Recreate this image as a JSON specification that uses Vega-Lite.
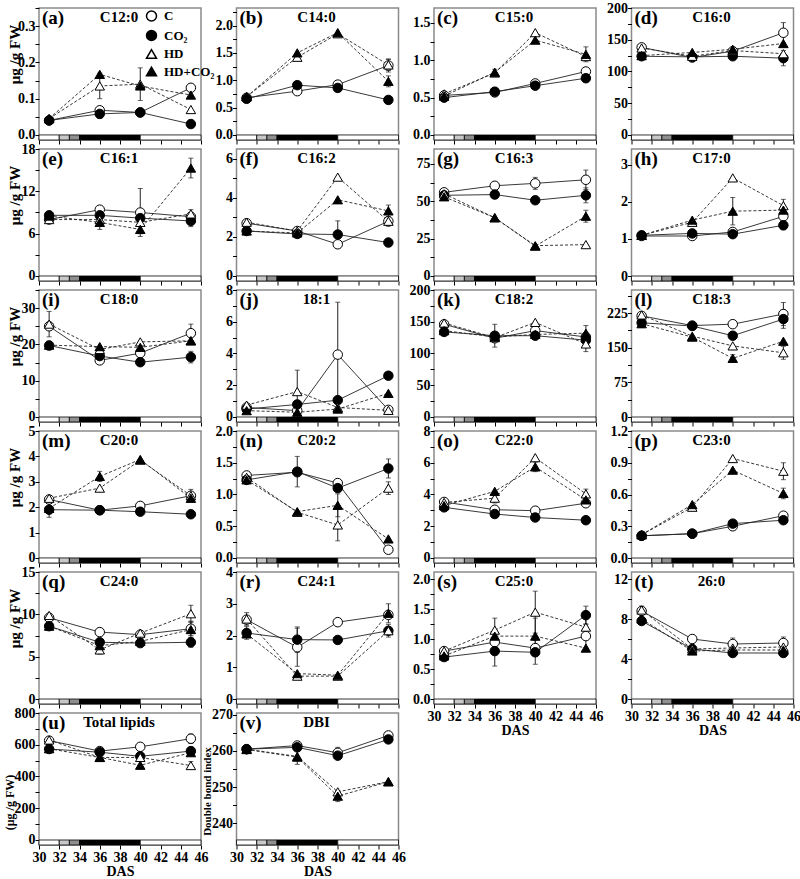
{
"$schema":"https://vega.github.io/schema/vega-lite/v6.json",
"padding":{"left":2,"top":0,"right":0,"bottom":0},
"bounds":"flush",
"columns":4,
"spacing":{"row":9,"column":35.5},
"resolve":{"legend":{"shape":"independent","fill":"independent"}},
"datasets":{
"strip":[{"a":30,"b":32,"k":"pre"},{"a":32,"b":33,"k":"s1"},{"a":33,"b":34,"k":"s2"},{"a":34,"b":40,"k":"hd"},{"a":40,"b":46,"k":"post"}],
"d":[
{"p":"a","g":"C","x":31,"v":0.04,"e":0.005},{"p":"a","g":"C","x":36,"v":0.068,"e":0.008},{"p":"a","g":"C","x":40,"v":0.062},{"p":"a","g":"C","x":45,"v":0.13,"e":0.01},
{"p":"a","g":"CO₂","x":31,"v":0.04},{"p":"a","g":"CO₂","x":36,"v":0.058,"e":0.012},{"p":"a","g":"CO₂","x":40,"v":0.062},{"p":"a","g":"CO₂","x":45,"v":0.03},
{"p":"a","g":"HD","x":31,"v":0.045},{"p":"a","g":"HD","x":36,"v":0.135,"e":0.035},{"p":"a","g":"HD","x":40,"v":0.14,"e":0.045},{"p":"a","g":"HD","x":45,"v":0.07},
{"p":"a","g":"HD+CO₂","x":31,"v":0.045},{"p":"a","g":"HD+CO₂","x":36,"v":0.167},{"p":"a","g":"HD+CO₂","x":40,"v":0.135},{"p":"a","g":"HD+CO₂","x":45,"v":0.11},
{"p":"b","g":"C","x":31,"v":0.68},{"p":"b","g":"C","x":36,"v":0.8},{"p":"b","g":"C","x":40,"v":0.92},{"p":"b","g":"C","x":45,"v":1.27,"e":0.12},
{"p":"b","g":"CO₂","x":31,"v":0.66},{"p":"b","g":"CO₂","x":36,"v":0.91},{"p":"b","g":"CO₂","x":40,"v":0.86},{"p":"b","g":"CO₂","x":45,"v":0.64},
{"p":"b","g":"HD","x":31,"v":0.7},{"p":"b","g":"HD","x":36,"v":1.42},{"p":"b","g":"HD","x":40,"v":1.85},{"p":"b","g":"HD","x":45,"v":1.28,"e":0.1},
{"p":"b","g":"HD+CO₂","x":31,"v":0.7},{"p":"b","g":"HD+CO₂","x":36,"v":1.5},{"p":"b","g":"HD+CO₂","x":40,"v":1.87},{"p":"b","g":"HD+CO₂","x":45,"v":0.98,"e":0.1},
{"p":"c","g":"C","x":31,"v":0.53},{"p":"c","g":"C","x":36,"v":0.57},{"p":"c","g":"C","x":40,"v":0.69},{"p":"c","g":"C","x":45,"v":0.85},
{"p":"c","g":"CO₂","x":31,"v":0.5},{"p":"c","g":"CO₂","x":36,"v":0.58},{"p":"c","g":"CO₂","x":40,"v":0.66},{"p":"c","g":"CO₂","x":45,"v":0.76,"e":0.05},
{"p":"c","g":"HD","x":31,"v":0.55},{"p":"c","g":"HD","x":36,"v":0.83},{"p":"c","g":"HD","x":40,"v":1.37},{"p":"c","g":"HD","x":45,"v":1.05},
{"p":"c","g":"HD+CO₂","x":31,"v":0.52},{"p":"c","g":"HD+CO₂","x":36,"v":0.84,"e":0.04},{"p":"c","g":"HD+CO₂","x":40,"v":1.27},{"p":"c","g":"HD+CO₂","x":45,"v":1.08,"e":0.1},
{"p":"d","g":"C","x":31,"v":138},{"p":"d","g":"C","x":36,"v":122},{"p":"d","g":"C","x":40,"v":132},{"p":"d","g":"C","x":45,"v":161,"e":16},
{"p":"d","g":"CO₂","x":31,"v":124,"e":6},{"p":"d","g":"CO₂","x":36,"v":123},{"p":"d","g":"CO₂","x":40,"v":124},{"p":"d","g":"CO₂","x":45,"v":121,"e":12},
{"p":"d","g":"HD","x":31,"v":137},{"p":"d","g":"HD","x":36,"v":124},{"p":"d","g":"HD","x":40,"v":133},{"p":"d","g":"HD","x":45,"v":128},
{"p":"d","g":"HD+CO₂","x":31,"v":125},{"p":"d","g":"HD+CO₂","x":36,"v":130},{"p":"d","g":"HD+CO₂","x":40,"v":135},{"p":"d","g":"HD+CO₂","x":45,"v":144},
{"p":"e","g":"C","x":31,"v":8.0},{"p":"e","g":"C","x":36,"v":9.4},{"p":"e","g":"C","x":40,"v":9.0,"e":3.4},{"p":"e","g":"C","x":45,"v":8.4},
{"p":"e","g":"CO₂","x":31,"v":8.6},{"p":"e","g":"CO₂","x":36,"v":8.6},{"p":"e","g":"CO₂","x":40,"v":8.2},{"p":"e","g":"CO₂","x":45,"v":7.8,"e":0.8},
{"p":"e","g":"HD","x":31,"v":8.0},{"p":"e","g":"HD","x":36,"v":8.0},{"p":"e","g":"HD","x":40,"v":7.6},{"p":"e","g":"HD","x":45,"v":8.8,"e":0.6},
{"p":"e","g":"HD+CO₂","x":31,"v":8.5},{"p":"e","g":"HD+CO₂","x":36,"v":7.6,"e":1.0},{"p":"e","g":"HD+CO₂","x":40,"v":6.6,"e":0.6},{"p":"e","g":"HD+CO₂","x":45,"v":15.3,"e":1.4},
{"p":"f","g":"C","x":31,"v":2.7},{"p":"f","g":"C","x":36,"v":2.3},{"p":"f","g":"C","x":40,"v":1.62},{"p":"f","g":"C","x":45,"v":2.8,"e":0.25},
{"p":"f","g":"CO₂","x":31,"v":2.3},{"p":"f","g":"CO₂","x":36,"v":2.15},{"p":"f","g":"CO₂","x":40,"v":2.12,"e":0.7},{"p":"f","g":"CO₂","x":45,"v":1.71},
{"p":"f","g":"HD","x":31,"v":2.75},{"p":"f","g":"HD","x":36,"v":2.3},{"p":"f","g":"HD","x":40,"v":5.06},{"p":"f","g":"HD","x":45,"v":2.8},
{"p":"f","g":"HD+CO₂","x":31,"v":2.3},{"p":"f","g":"HD+CO₂","x":36,"v":2.2},{"p":"f","g":"HD+CO₂","x":40,"v":3.9},{"p":"f","g":"HD+CO₂","x":45,"v":3.33,"e":0.3},
{"p":"g","g":"C","x":31,"v":56},{"p":"g","g":"C","x":36,"v":60.4},{"p":"g","g":"C","x":40,"v":62,"e":4},{"p":"g","g":"C","x":45,"v":64.4,"e":6.5},
{"p":"g","g":"CO₂","x":31,"v":54},{"p":"g","g":"CO₂","x":36,"v":54.5},{"p":"g","g":"CO₂","x":40,"v":50.7},{"p":"g","g":"CO₂","x":45,"v":54,"e":5},
{"p":"g","g":"HD","x":31,"v":55},{"p":"g","g":"HD","x":36,"v":39},{"p":"g","g":"HD","x":40,"v":20.3},{"p":"g","g":"HD","x":45,"v":21},
{"p":"g","g":"HD+CO₂","x":31,"v":53},{"p":"g","g":"HD+CO₂","x":36,"v":39},{"p":"g","g":"HD+CO₂","x":40,"v":20},{"p":"g","g":"HD+CO₂","x":45,"v":40,"e":4},
{"p":"h","g":"C","x":31,"v":1.08},{"p":"h","g":"C","x":36,"v":1.08},{"p":"h","g":"C","x":40,"v":1.19},{"p":"h","g":"C","x":45,"v":1.61},
{"p":"h","g":"CO₂","x":31,"v":1.1},{"p":"h","g":"CO₂","x":36,"v":1.15},{"p":"h","g":"CO₂","x":40,"v":1.13},{"p":"h","g":"CO₂","x":45,"v":1.37,"e":0.12},
{"p":"h","g":"HD","x":31,"v":1.1},{"p":"h","g":"HD","x":36,"v":1.45},{"p":"h","g":"HD","x":40,"v":2.65},{"p":"h","g":"HD","x":45,"v":1.9,"e":0.17},
{"p":"h","g":"HD+CO₂","x":31,"v":1.1},{"p":"h","g":"HD+CO₂","x":36,"v":1.51},{"p":"h","g":"HD+CO₂","x":40,"v":1.75,"e":0.37},{"p":"h","g":"HD+CO₂","x":45,"v":1.78},
{"p":"i","g":"C","x":31,"v":25},{"p":"i","g":"C","x":36,"v":15.6},{"p":"i","g":"C","x":40,"v":17.6},{"p":"i","g":"C","x":45,"v":23.1,"e":2.5},
{"p":"i","g":"CO₂","x":31,"v":19.7,"e":1.2},{"p":"i","g":"CO₂","x":36,"v":16.8},{"p":"i","g":"CO₂","x":40,"v":15.1},{"p":"i","g":"CO₂","x":45,"v":16.5,"e":1.6},
{"p":"i","g":"HD","x":31,"v":25.6,"e":3.5},{"p":"i","g":"HD","x":36,"v":18.6},{"p":"i","g":"HD","x":40,"v":20.7},{"p":"i","g":"HD","x":45,"v":21},
{"p":"i","g":"HD+CO₂","x":31,"v":19.8},{"p":"i","g":"HD+CO₂","x":36,"v":19.4},{"p":"i","g":"HD+CO₂","x":40,"v":19.2},{"p":"i","g":"HD+CO₂","x":45,"v":21},
{"p":"j","g":"C","x":31,"v":0.6},{"p":"j","g":"C","x":36,"v":0.4},{"p":"j","g":"C","x":40,"v":3.93,"e":3.3},{"p":"j","g":"C","x":45,"v":0.45},
{"p":"j","g":"CO₂","x":31,"v":0.5},{"p":"j","g":"CO₂","x":36,"v":0.79},{"p":"j","g":"CO₂","x":40,"v":1.06},{"p":"j","g":"CO₂","x":45,"v":2.6},
{"p":"j","g":"HD","x":31,"v":0.75},{"p":"j","g":"HD","x":36,"v":1.6,"e":1.35},{"p":"j","g":"HD","x":40,"v":0.6},{"p":"j","g":"HD","x":45,"v":0.42},
{"p":"j","g":"HD+CO₂","x":31,"v":0.4},{"p":"j","g":"HD+CO₂","x":36,"v":0.3},{"p":"j","g":"HD+CO₂","x":40,"v":0.5},{"p":"j","g":"HD+CO₂","x":45,"v":1.49},
{"p":"k","g":"C","x":31,"v":146},{"p":"k","g":"C","x":36,"v":124},{"p":"k","g":"C","x":40,"v":136},{"p":"k","g":"C","x":45,"v":126},
{"p":"k","g":"CO₂","x":31,"v":134},{"p":"k","g":"CO₂","x":36,"v":128,"e":18},{"p":"k","g":"CO₂","x":40,"v":128},{"p":"k","g":"CO₂","x":45,"v":121},
{"p":"k","g":"HD","x":31,"v":148},{"p":"k","g":"HD","x":36,"v":125},{"p":"k","g":"HD","x":40,"v":149},{"p":"k","g":"HD","x":45,"v":115,"e":12},
{"p":"k","g":"HD+CO₂","x":31,"v":136},{"p":"k","g":"HD+CO₂","x":36,"v":126},{"p":"k","g":"HD+CO₂","x":40,"v":130},{"p":"k","g":"HD+CO₂","x":45,"v":132,"e":12},
{"p":"l","g":"C","x":31,"v":219},{"p":"l","g":"C","x":36,"v":198},{"p":"l","g":"C","x":40,"v":201},{"p":"l","g":"C","x":45,"v":223,"e":25},
{"p":"l","g":"CO₂","x":31,"v":204},{"p":"l","g":"CO₂","x":36,"v":197},{"p":"l","g":"CO₂","x":40,"v":176},{"p":"l","g":"CO₂","x":45,"v":212,"e":20},
{"p":"l","g":"HD","x":31,"v":221},{"p":"l","g":"HD","x":36,"v":175},{"p":"l","g":"HD","x":40,"v":154},{"p":"l","g":"HD","x":45,"v":139,"e":14},
{"p":"l","g":"HD+CO₂","x":31,"v":202},{"p":"l","g":"HD+CO₂","x":36,"v":173},{"p":"l","g":"HD+CO₂","x":40,"v":127,"e":8},{"p":"l","g":"HD+CO₂","x":45,"v":164},
{"p":"m","g":"C","x":31,"v":2.3},{"p":"m","g":"C","x":36,"v":1.88},{"p":"m","g":"C","x":40,"v":2.05},{"p":"m","g":"C","x":45,"v":2.45,"e":0.25},
{"p":"m","g":"CO₂","x":31,"v":1.9,"e":0.3},{"p":"m","g":"CO₂","x":36,"v":1.88},{"p":"m","g":"CO₂","x":40,"v":1.82},{"p":"m","g":"CO₂","x":45,"v":1.72},
{"p":"m","g":"HD","x":31,"v":2.35},{"p":"m","g":"HD","x":36,"v":2.75},{"p":"m","g":"HD","x":40,"v":3.85},{"p":"m","g":"HD","x":45,"v":2.45},
{"p":"m","g":"HD+CO₂","x":31,"v":1.95},{"p":"m","g":"HD+CO₂","x":36,"v":3.21,"e":0.2},{"p":"m","g":"HD+CO₂","x":40,"v":3.88},{"p":"m","g":"HD+CO₂","x":45,"v":2.35},
{"p":"n","g":"C","x":31,"v":1.3},{"p":"n","g":"C","x":36,"v":1.35},{"p":"n","g":"C","x":40,"v":1.18},{"p":"n","g":"C","x":45,"v":0.13,"e":0.05},
{"p":"n","g":"CO₂","x":31,"v":1.23},{"p":"n","g":"CO₂","x":36,"v":1.36,"e":0.24},{"p":"n","g":"CO₂","x":40,"v":1.1},{"p":"n","g":"CO₂","x":45,"v":1.41,"e":0.15},
{"p":"n","g":"HD","x":31,"v":1.27},{"p":"n","g":"HD","x":36,"v":0.72},{"p":"n","g":"HD","x":40,"v":0.52,"e":0.25},{"p":"n","g":"HD","x":45,"v":1.1,"e":0.1},
{"p":"n","g":"HD+CO₂","x":31,"v":1.23},{"p":"n","g":"HD+CO₂","x":36,"v":0.73},{"p":"n","g":"HD+CO₂","x":40,"v":0.83,"e":0.18},{"p":"n","g":"HD+CO₂","x":45,"v":0.3},
{"p":"o","g":"C","x":31,"v":3.53},{"p":"o","g":"C","x":36,"v":3.04},{"p":"o","g":"C","x":40,"v":2.98},{"p":"o","g":"C","x":45,"v":3.45},
{"p":"o","g":"CO₂","x":31,"v":3.19},{"p":"o","g":"CO₂","x":36,"v":2.77},{"p":"o","g":"CO₂","x":40,"v":2.55},{"p":"o","g":"CO₂","x":45,"v":2.38},
{"p":"o","g":"HD","x":31,"v":3.5},{"p":"o","g":"HD","x":36,"v":3.77,"e":0.3},{"p":"o","g":"HD","x":40,"v":6.32},{"p":"o","g":"HD","x":45,"v":4.04,"e":0.3},
{"p":"o","g":"HD+CO₂","x":31,"v":3.3},{"p":"o","g":"HD+CO₂","x":36,"v":4.2},{"p":"o","g":"HD+CO₂","x":40,"v":5.74,"e":0.3},{"p":"o","g":"HD+CO₂","x":45,"v":3.66,"e":0.35},
{"p":"p","g":"C","x":31,"v":0.21},{"p":"p","g":"C","x":36,"v":0.23},{"p":"p","g":"C","x":40,"v":0.3},{"p":"p","g":"C","x":45,"v":0.4},
{"p":"p","g":"CO₂","x":31,"v":0.21},{"p":"p","g":"CO₂","x":36,"v":0.23},{"p":"p","g":"CO₂","x":40,"v":0.325},{"p":"p","g":"CO₂","x":45,"v":0.357},
{"p":"p","g":"HD","x":31,"v":0.22},{"p":"p","g":"HD","x":36,"v":0.48},{"p":"p","g":"HD","x":40,"v":0.94},{"p":"p","g":"HD","x":45,"v":0.82,"e":0.08},
{"p":"p","g":"HD+CO₂","x":31,"v":0.22},{"p":"p","g":"HD+CO₂","x":36,"v":0.505},{"p":"p","g":"HD+CO₂","x":40,"v":0.83},{"p":"p","g":"HD+CO₂","x":45,"v":0.61,"e":0.05},
{"p":"q","g":"C","x":31,"v":9.6},{"p":"q","g":"C","x":36,"v":7.9,"e":0.4},{"p":"q","g":"C","x":40,"v":7.6},{"p":"q","g":"C","x":45,"v":8.3,"e":0.8},
{"p":"q","g":"CO₂","x":31,"v":8.6,"e":0.5},{"p":"q","g":"CO₂","x":36,"v":6.7},{"p":"q","g":"CO₂","x":40,"v":6.6},{"p":"q","g":"CO₂","x":45,"v":6.7,"e":0.6},
{"p":"q","g":"HD","x":31,"v":9.87},{"p":"q","g":"HD","x":36,"v":5.8,"e":0.5},{"p":"q","g":"HD","x":40,"v":7.78},{"p":"q","g":"HD","x":45,"v":10.07,"e":1},
{"p":"q","g":"HD+CO₂","x":31,"v":8.6},{"p":"q","g":"HD+CO₂","x":36,"v":6.3},{"p":"q","g":"HD+CO₂","x":40,"v":6.8},{"p":"q","g":"HD+CO₂","x":45,"v":8.2,"e":1},
{"p":"r","g":"C","x":31,"v":2.5},{"p":"r","g":"C","x":36,"v":1.63,"e":0.6},{"p":"r","g":"C","x":40,"v":2.42},{"p":"r","g":"C","x":45,"v":2.65},
{"p":"r","g":"CO₂","x":31,"v":2.08,"e":0.2},{"p":"r","g":"CO₂","x":36,"v":1.87,"e":0.4},{"p":"r","g":"CO₂","x":40,"v":1.86},{"p":"r","g":"CO₂","x":45,"v":2.15},
{"p":"r","g":"HD","x":31,"v":2.52,"e":0.2},{"p":"r","g":"HD","x":36,"v":0.72},{"p":"r","g":"HD","x":40,"v":0.72},{"p":"r","g":"HD","x":45,"v":2.15,"e":0.2},
{"p":"r","g":"HD+CO₂","x":31,"v":2.05},{"p":"r","g":"HD+CO₂","x":36,"v":0.8},{"p":"r","g":"HD+CO₂","x":40,"v":0.75},{"p":"r","g":"HD+CO₂","x":45,"v":2.7,"e":0.3},
{"p":"s","g":"C","x":31,"v":0.8},{"p":"s","g":"C","x":36,"v":0.95},{"p":"s","g":"C","x":40,"v":0.85},{"p":"s","g":"C","x":45,"v":1.05,"e":0.2},
{"p":"s","g":"CO₂","x":31,"v":0.7},{"p":"s","g":"CO₂","x":36,"v":0.8,"e":0.25},{"p":"s","g":"CO₂","x":40,"v":0.78,"e":0.2},{"p":"s","g":"CO₂","x":45,"v":1.4,"e":0.15},
{"p":"s","g":"HD","x":31,"v":0.8},{"p":"s","g":"HD","x":36,"v":1.15,"e":0.2},{"p":"s","g":"HD","x":40,"v":1.45,"e":0.35},{"p":"s","g":"HD","x":45,"v":1.2,"e":0.2},
{"p":"s","g":"HD+CO₂","x":31,"v":0.72},{"p":"s","g":"HD+CO₂","x":36,"v":1.05},{"p":"s","g":"HD+CO₂","x":40,"v":1.05,"e":0.3},{"p":"s","g":"HD+CO₂","x":45,"v":0.85},
{"p":"t","g":"C","x":31,"v":8.8},{"p":"t","g":"C","x":36,"v":6.0},{"p":"t","g":"C","x":40,"v":5.5,"e":0.6},{"p":"t","g":"C","x":45,"v":5.6,"e":0.6},
{"p":"t","g":"CO₂","x":31,"v":7.8},{"p":"t","g":"CO₂","x":36,"v":5.0},{"p":"t","g":"CO₂","x":40,"v":4.6},{"p":"t","g":"CO₂","x":45,"v":4.6},
{"p":"t","g":"HD","x":31,"v":8.9,"e":0.4},{"p":"t","g":"HD","x":36,"v":5.0},{"p":"t","g":"HD","x":40,"v":5.1},{"p":"t","g":"HD","x":45,"v":5.2},
{"p":"t","g":"HD+CO₂","x":31,"v":8.0},{"p":"t","g":"HD+CO₂","x":36,"v":4.8},{"p":"t","g":"HD+CO₂","x":40,"v":4.9},{"p":"t","g":"HD+CO₂","x":45,"v":4.9},
{"p":"u","g":"C","x":31,"v":626},{"p":"u","g":"C","x":36,"v":560},{"p":"u","g":"C","x":40,"v":587},{"p":"u","g":"C","x":45,"v":638,"e":30},
{"p":"u","g":"CO₂","x":31,"v":573,"e":20},{"p":"u","g":"CO₂","x":36,"v":553},{"p":"u","g":"CO₂","x":40,"v":527},{"p":"u","g":"CO₂","x":45,"v":560,"e":20},
{"p":"u","g":"HD","x":31,"v":630},{"p":"u","g":"HD","x":36,"v":520},{"p":"u","g":"HD","x":40,"v":520},{"p":"u","g":"HD","x":45,"v":469,"e":25},
{"p":"u","g":"HD+CO₂","x":31,"v":575},{"p":"u","g":"HD+CO₂","x":36,"v":520,"e":20},{"p":"u","g":"HD+CO₂","x":40,"v":471,"e":25},{"p":"u","g":"HD+CO₂","x":45,"v":550},
{"p":"v","g":"C","x":31,"v":260.5},{"p":"v","g":"C","x":36,"v":261.5},{"p":"v","g":"C","x":40,"v":259.5,"e":1.5},{"p":"v","g":"C","x":45,"v":264.3},
{"p":"v","g":"CO₂","x":31,"v":260.5,"e":0.8},{"p":"v","g":"CO₂","x":36,"v":261},{"p":"v","g":"CO₂","x":40,"v":258.7},{"p":"v","g":"CO₂","x":45,"v":263.2},
{"p":"v","g":"HD","x":31,"v":260.5},{"p":"v","g":"HD","x":36,"v":258.5},{"p":"v","g":"HD","x":40,"v":248.7},{"p":"v","g":"HD","x":45,"v":251.5},
{"p":"v","g":"HD+CO₂","x":31,"v":260.4},{"p":"v","g":"HD+CO₂","x":36,"v":258.3,"e":2},{"p":"v","g":"HD+CO₂","x":40,"v":247.5,"e":1.5},{"p":"v","g":"HD+CO₂","x":45,"v":251.5}
]},
"config":{
"view":{"stroke":"#8a8a8a","strokeWidth":1.5},
"font":"Liberation Serif",
"axis":{"domain":false,"grid":false,"tickColor":"black","tickSize":4,"tickWidth":1,"labelFont":"Liberation Serif","labelFontSize":14,"labelFontWeight":"bold","labelColor":"black","labelPadding":0,"labelOverlap":false,"titleFont":"Liberation Serif","titleFontWeight":"bold","titleColor":"black","titleFontSize":14},
"axisX":{"labels":false,"labelPadding":1,"titlePadding":0,"labelFlush":false},
"axisY":{"minExtent":22,"maxExtent":22,"titlePadding":-5,"titleFontSize":15},
"range":{"category":["white","black","white","black"],"symbol":["circle","circle","triangle-up","triangle-up"]},
"style":{
"idlab":{"font":"Liberation Serif","fontSize":19,"fontWeight":"bold","align":"left","baseline":"top","dx":3,"dy":1,"fill":"black"},
"nmlab":{"font":"Liberation Serif","fontSize":15,"fontWeight":"bold","align":"center","baseline":"top","dy":2,"fill":"black"}}
},
"concat":[
{"width":162,"height":132,"layer":[
{"data":{"name":"d"},"transform":[{"filter":"datum.p=='a'"}],"encoding":{"x":{"field":"x","type":"quantitative","scale":{"domain":[30,46],"nice":false,"zero":false},"axis":{"values":[30,32,34,36,38,40,42,44,46],"format":"d","tickCount":50,"labelOverlap":false,"title":null}},"y":{"field":"v","type":"quantitative","scale":{"domain":[-0.014,0.35],"nice":false,"zero":false},"axis":{"values":[0,0.05,0.1,0.15,0.2,0.25,0.3,0.35],"tickCount":50,"labelOverlap":false,"format":".1f","labelExpr":"abs(datum.value/0.1-round(datum.value/0.1))<0.001?datum.label:''","title":"μg /g FW","titleY":46}}},"layer":[
{"transform":[{"filter":"datum.g=='C'||datum.g=='CO₂'"}],"mark":{"type":"line","color":"#222","strokeWidth":0.9},"encoding":{"detail":{"field":"g"}}},
{"transform":[{"filter":"datum.g=='HD'||datum.g=='HD+CO₂'"}],"mark":{"type":"line","color":"#222","strokeWidth":0.9,"strokeDash":[3,2]},"encoding":{"detail":{"field":"g"}}},
{"transform":[{"filter":"datum.e>0"}],"mark":{"type":"errorbar","ticks":true,"color":"#222"},"encoding":{"yError":{"field":"e"}}},
{"mark":{"type":"point","filled":true,"size":90,"stroke":"black","strokeWidth":1,"opacity":1},"encoding":{
"shape":{"field":"g","type":"nominal","legend":{"title":null,"orient":"none","legendX":106,"legendY":1.5,"padding":0,"rowPadding":2.5,"symbolSize":100,"labelOffset":6,"labelFont":"Liberation Serif","labelFontSize":13,"labelFontWeight":"bold","labelColor":"black"}},
"fill":{"field":"g","type":"nominal","legend":{"title":null,"orient":"none","legendX":106,"legendY":1.5,"padding":0,"rowPadding":2.5,"symbolSize":100,"labelOffset":6,"labelFont":"Liberation Serif","labelFontSize":13,"labelFontWeight":"bold","labelColor":"black"}}}}]},
{"data":{"name":"strip"},"mark":{"type":"rect","stroke":"black","strokeWidth":0.8},"encoding":{"x":{"field":"a","type":"quantitative"},"x2":{"field":"b"},"y":{"datum":0},"y2":{"datum":-0.014},"color":{"field":"k","type":"nominal","scale":{"domain":["pre","s1","s2","hd","post"],"range":["white","#c8c8c8","#8f8f8f","black","white"]},"legend":null}}},
{"data":{"values":[{"t":"(a)","n":"C12:0"}]},"layer":[{"mark":{"type":"text","style":"idlab"},"encoding":{"x":{"datum":30},"y":{"datum":0.35},"text":{"field":"t"}}},{"mark":{"type":"text","style":"nmlab"},"encoding":{"x":{"datum":37.9},"y":{"datum":0.35},"text":{"field":"n"}}}]}
]},
{"width":162,"height":132,"layer":[
{"data":{"name":"d"},"transform":[{"filter":"datum.p=='b'"}],"encoding":{"x":{"field":"x","type":"quantitative","scale":{"domain":[30,46],"nice":false,"zero":false},"axis":{"values":[30,32,34,36,38,40,42,44,46],"format":"d","tickCount":50,"labelOverlap":false,"title":null}},"y":{"field":"v","type":"quantitative","scale":{"domain":[-0.092,2.32],"nice":false,"zero":false},"axis":{"values":[0,0.25,0.5,0.75,1,1.25,1.5,1.75,2,2.25],"tickCount":50,"labelOverlap":false,"format":".1f","labelExpr":"abs(datum.value/0.5-round(datum.value/0.5))<0.001?datum.label:''","title":null}}},"layer":[
{"transform":[{"filter":"datum.g=='C'||datum.g=='CO₂'"}],"mark":{"type":"line","color":"#222","strokeWidth":0.9},"encoding":{"detail":{"field":"g"}}},
{"transform":[{"filter":"datum.g=='HD'||datum.g=='HD+CO₂'"}],"mark":{"type":"line","color":"#222","strokeWidth":0.9,"strokeDash":[3,2]},"encoding":{"detail":{"field":"g"}}},
{"transform":[{"filter":"datum.e>0"}],"mark":{"type":"errorbar","ticks":true,"color":"#222"},"encoding":{"yError":{"field":"e"}}},
{"mark":{"type":"point","filled":true,"size":90,"stroke":"black","strokeWidth":1,"opacity":1},"encoding":{"shape":{"field":"g","type":"nominal","legend":null},"fill":{"field":"g","type":"nominal","legend":null}}}]},
{"data":{"name":"strip"},"mark":{"type":"rect","stroke":"black","strokeWidth":0.8},"encoding":{"x":{"field":"a","type":"quantitative"},"x2":{"field":"b"},"y":{"datum":0},"y2":{"datum":-0.092},"color":{"field":"k","type":"nominal","scale":{"domain":["pre","s1","s2","hd","post"],"range":["white","#c8c8c8","#8f8f8f","black","white"]},"legend":null}}},
{"data":{"values":[{"t":"(b)","n":"C14:0"}]},"layer":[{"mark":{"type":"text","style":"idlab"},"encoding":{"x":{"datum":30},"y":{"datum":2.32},"text":{"field":"t"}}},{"mark":{"type":"text","style":"nmlab"},"encoding":{"x":{"datum":37.9},"y":{"datum":2.32},"text":{"field":"n"}}}]}
]},
{"width":162,"height":132,"layer":[
{"data":{"name":"d"},"transform":[{"filter":"datum.p=='c'"}],"encoding":{"x":{"field":"x","type":"quantitative","scale":{"domain":[30,46],"nice":false,"zero":false},"axis":{"values":[30,32,34,36,38,40,42,44,46],"format":"d","tickCount":50,"labelOverlap":false,"title":null}},"y":{"field":"v","type":"quantitative","scale":{"domain":[-0.067,1.7],"nice":false,"zero":false},"axis":{"values":[0,0.25,0.5,0.75,1,1.25,1.5],"tickCount":50,"labelOverlap":false,"format":".1f","labelExpr":"abs(datum.value/0.5-round(datum.value/0.5))<0.001?datum.label:''","title":null}}},"layer":[
{"transform":[{"filter":"datum.g=='C'||datum.g=='CO₂'"}],"mark":{"type":"line","color":"#222","strokeWidth":0.9},"encoding":{"detail":{"field":"g"}}},
{"transform":[{"filter":"datum.g=='HD'||datum.g=='HD+CO₂'"}],"mark":{"type":"line","color":"#222","strokeWidth":0.9,"strokeDash":[3,2]},"encoding":{"detail":{"field":"g"}}},
{"transform":[{"filter":"datum.e>0"}],"mark":{"type":"errorbar","ticks":true,"color":"#222"},"encoding":{"yError":{"field":"e"}}},
{"mark":{"type":"point","filled":true,"size":90,"stroke":"black","strokeWidth":1,"opacity":1},"encoding":{"shape":{"field":"g","type":"nominal","legend":null},"fill":{"field":"g","type":"nominal","legend":null}}}]},
{"data":{"name":"strip"},"mark":{"type":"rect","stroke":"black","strokeWidth":0.8},"encoding":{"x":{"field":"a","type":"quantitative"},"x2":{"field":"b"},"y":{"datum":0},"y2":{"datum":-0.067},"color":{"field":"k","type":"nominal","scale":{"domain":["pre","s1","s2","hd","post"],"range":["white","#c8c8c8","#8f8f8f","black","white"]},"legend":null}}},
{"data":{"values":[{"t":"(c)","n":"C15:0"}]},"layer":[{"mark":{"type":"text","style":"idlab"},"encoding":{"x":{"datum":30},"y":{"datum":1.7},"text":{"field":"t"}}},{"mark":{"type":"text","style":"nmlab"},"encoding":{"x":{"datum":37.9},"y":{"datum":1.7},"text":{"field":"n"}}}]}
]},
{"width":162,"height":132,"layer":[
{"data":{"name":"d"},"transform":[{"filter":"datum.p=='d'"}],"encoding":{"x":{"field":"x","type":"quantitative","scale":{"domain":[30,46],"nice":false,"zero":false},"axis":{"values":[30,32,34,36,38,40,42,44,46],"format":"d","tickCount":50,"labelOverlap":false,"title":null}},"y":{"field":"v","type":"quantitative","scale":{"domain":[-7.9,200],"nice":false,"zero":false},"axis":{"values":[0,25,50,75,100,125,150,175,200],"tickCount":50,"labelOverlap":false,"format":"d","labelExpr":"abs(datum.value/50-round(datum.value/50))<0.001?datum.label:''","title":null}}},"layer":[
{"transform":[{"filter":"datum.g=='C'||datum.g=='CO₂'"}],"mark":{"type":"line","color":"#222","strokeWidth":0.9},"encoding":{"detail":{"field":"g"}}},
{"transform":[{"filter":"datum.g=='HD'||datum.g=='HD+CO₂'"}],"mark":{"type":"line","color":"#222","strokeWidth":0.9,"strokeDash":[3,2]},"encoding":{"detail":{"field":"g"}}},
{"transform":[{"filter":"datum.e>0"}],"mark":{"type":"errorbar","ticks":true,"color":"#222"},"encoding":{"yError":{"field":"e"}}},
{"mark":{"type":"point","filled":true,"size":90,"stroke":"black","strokeWidth":1,"opacity":1},"encoding":{"shape":{"field":"g","type":"nominal","legend":null},"fill":{"field":"g","type":"nominal","legend":null}}}]},
{"data":{"name":"strip"},"mark":{"type":"rect","stroke":"black","strokeWidth":0.8},"encoding":{"x":{"field":"a","type":"quantitative"},"x2":{"field":"b"},"y":{"datum":0},"y2":{"datum":-7.9},"color":{"field":"k","type":"nominal","scale":{"domain":["pre","s1","s2","hd","post"],"range":["white","#c8c8c8","#8f8f8f","black","white"]},"legend":null}}},
{"data":{"values":[{"t":"(d)","n":"C16:0"}]},"layer":[{"mark":{"type":"text","style":"idlab"},"encoding":{"x":{"datum":30},"y":{"datum":200},"text":{"field":"t"}}},{"mark":{"type":"text","style":"nmlab"},"encoding":{"x":{"datum":37.9},"y":{"datum":200},"text":{"field":"n"}}}]}
]},
{"width":162,"height":132,"layer":[
{"data":{"name":"d"},"transform":[{"filter":"datum.p=='e'"}],"encoding":{"x":{"field":"x","type":"quantitative","scale":{"domain":[30,46],"nice":false,"zero":false},"axis":{"values":[30,32,34,36,38,40,42,44,46],"format":"d","tickCount":50,"labelOverlap":false,"title":null}},"y":{"field":"v","type":"quantitative","scale":{"domain":[-0.71,18],"nice":false,"zero":false},"axis":{"values":[0,3,6,9,12,15,18],"tickCount":50,"labelOverlap":false,"format":"d","labelExpr":"abs(datum.value/6-round(datum.value/6))<0.001?datum.label:''","title":"μg /g FW","titleY":46}}},"layer":[
{"transform":[{"filter":"datum.g=='C'||datum.g=='CO₂'"}],"mark":{"type":"line","color":"#222","strokeWidth":0.9},"encoding":{"detail":{"field":"g"}}},
{"transform":[{"filter":"datum.g=='HD'||datum.g=='HD+CO₂'"}],"mark":{"type":"line","color":"#222","strokeWidth":0.9,"strokeDash":[3,2]},"encoding":{"detail":{"field":"g"}}},
{"transform":[{"filter":"datum.e>0"}],"mark":{"type":"errorbar","ticks":true,"color":"#222"},"encoding":{"yError":{"field":"e"}}},
{"mark":{"type":"point","filled":true,"size":90,"stroke":"black","strokeWidth":1,"opacity":1},"encoding":{"shape":{"field":"g","type":"nominal","legend":null},"fill":{"field":"g","type":"nominal","legend":null}}}]},
{"data":{"name":"strip"},"mark":{"type":"rect","stroke":"black","strokeWidth":0.8},"encoding":{"x":{"field":"a","type":"quantitative"},"x2":{"field":"b"},"y":{"datum":0},"y2":{"datum":-0.71},"color":{"field":"k","type":"nominal","scale":{"domain":["pre","s1","s2","hd","post"],"range":["white","#c8c8c8","#8f8f8f","black","white"]},"legend":null}}},
{"data":{"values":[{"t":"(e)","n":"C16:1"}]},"layer":[{"mark":{"type":"text","style":"idlab"},"encoding":{"x":{"datum":30},"y":{"datum":18},"text":{"field":"t"}}},{"mark":{"type":"text","style":"nmlab"},"encoding":{"x":{"datum":37.9},"y":{"datum":18},"text":{"field":"n"}}}]}
]},
{"width":162,"height":132,"layer":[
{"data":{"name":"d"},"transform":[{"filter":"datum.p=='f'"}],"encoding":{"x":{"field":"x","type":"quantitative","scale":{"domain":[30,46],"nice":false,"zero":false},"axis":{"values":[30,32,34,36,38,40,42,44,46],"format":"d","tickCount":50,"labelOverlap":false,"title":null}},"y":{"field":"v","type":"quantitative","scale":{"domain":[-0.26,6.5],"nice":false,"zero":false},"axis":{"values":[0,1,2,3,4,5,6],"tickCount":50,"labelOverlap":false,"format":"d","labelExpr":"abs(datum.value/2-round(datum.value/2))<0.001?datum.label:''","title":null}}},"layer":[
{"transform":[{"filter":"datum.g=='C'||datum.g=='CO₂'"}],"mark":{"type":"line","color":"#222","strokeWidth":0.9},"encoding":{"detail":{"field":"g"}}},
{"transform":[{"filter":"datum.g=='HD'||datum.g=='HD+CO₂'"}],"mark":{"type":"line","color":"#222","strokeWidth":0.9,"strokeDash":[3,2]},"encoding":{"detail":{"field":"g"}}},
{"transform":[{"filter":"datum.e>0"}],"mark":{"type":"errorbar","ticks":true,"color":"#222"},"encoding":{"yError":{"field":"e"}}},
{"mark":{"type":"point","filled":true,"size":90,"stroke":"black","strokeWidth":1,"opacity":1},"encoding":{"shape":{"field":"g","type":"nominal","legend":null},"fill":{"field":"g","type":"nominal","legend":null}}}]},
{"data":{"name":"strip"},"mark":{"type":"rect","stroke":"black","strokeWidth":0.8},"encoding":{"x":{"field":"a","type":"quantitative"},"x2":{"field":"b"},"y":{"datum":0},"y2":{"datum":-0.26},"color":{"field":"k","type":"nominal","scale":{"domain":["pre","s1","s2","hd","post"],"range":["white","#c8c8c8","#8f8f8f","black","white"]},"legend":null}}},
{"data":{"values":[{"t":"(f)","n":"C16:2"}]},"layer":[{"mark":{"type":"text","style":"idlab"},"encoding":{"x":{"datum":30},"y":{"datum":6.5},"text":{"field":"t"}}},{"mark":{"type":"text","style":"nmlab"},"encoding":{"x":{"datum":37.9},"y":{"datum":6.5},"text":{"field":"n"}}}]}
]},
{"width":162,"height":132,"layer":[
{"data":{"name":"d"},"transform":[{"filter":"datum.p=='g'"}],"encoding":{"x":{"field":"x","type":"quantitative","scale":{"domain":[30,46],"nice":false,"zero":false},"axis":{"values":[30,32,34,36,38,40,42,44,46],"format":"d","tickCount":50,"labelOverlap":false,"title":null}},"y":{"field":"v","type":"quantitative","scale":{"domain":[-3.35,85],"nice":false,"zero":false},"axis":{"values":[0,12.5,25,37.5,50,62.5,75],"tickCount":50,"labelOverlap":false,"format":"d","labelExpr":"abs(datum.value/25-round(datum.value/25))<0.001?datum.label:''","title":null}}},"layer":[
{"transform":[{"filter":"datum.g=='C'||datum.g=='CO₂'"}],"mark":{"type":"line","color":"#222","strokeWidth":0.9},"encoding":{"detail":{"field":"g"}}},
{"transform":[{"filter":"datum.g=='HD'||datum.g=='HD+CO₂'"}],"mark":{"type":"line","color":"#222","strokeWidth":0.9,"strokeDash":[3,2]},"encoding":{"detail":{"field":"g"}}},
{"transform":[{"filter":"datum.e>0"}],"mark":{"type":"errorbar","ticks":true,"color":"#222"},"encoding":{"yError":{"field":"e"}}},
{"mark":{"type":"point","filled":true,"size":90,"stroke":"black","strokeWidth":1,"opacity":1},"encoding":{"shape":{"field":"g","type":"nominal","legend":null},"fill":{"field":"g","type":"nominal","legend":null}}}]},
{"data":{"name":"strip"},"mark":{"type":"rect","stroke":"black","strokeWidth":0.8},"encoding":{"x":{"field":"a","type":"quantitative"},"x2":{"field":"b"},"y":{"datum":0},"y2":{"datum":-3.35},"color":{"field":"k","type":"nominal","scale":{"domain":["pre","s1","s2","hd","post"],"range":["white","#c8c8c8","#8f8f8f","black","white"]},"legend":null}}},
{"data":{"values":[{"t":"(g)","n":"C16:3"}]},"layer":[{"mark":{"type":"text","style":"idlab"},"encoding":{"x":{"datum":30},"y":{"datum":85},"text":{"field":"t"}}},{"mark":{"type":"text","style":"nmlab"},"encoding":{"x":{"datum":37.9},"y":{"datum":85},"text":{"field":"n"}}}]}
]},
{"width":162,"height":132,"layer":[
{"data":{"name":"d"},"transform":[{"filter":"datum.p=='h'"}],"encoding":{"x":{"field":"x","type":"quantitative","scale":{"domain":[30,46],"nice":false,"zero":false},"axis":{"values":[30,32,34,36,38,40,42,44,46],"format":"d","tickCount":50,"labelOverlap":false,"title":null}},"y":{"field":"v","type":"quantitative","scale":{"domain":[-0.135,3.43],"nice":false,"zero":false},"axis":{"values":[0,0.5,1,1.5,2,2.5,3],"tickCount":50,"labelOverlap":false,"format":"d","labelExpr":"abs(datum.value/1-round(datum.value/1))<0.001?datum.label:''","title":null}}},"layer":[
{"transform":[{"filter":"datum.g=='C'||datum.g=='CO₂'"}],"mark":{"type":"line","color":"#222","strokeWidth":0.9},"encoding":{"detail":{"field":"g"}}},
{"transform":[{"filter":"datum.g=='HD'||datum.g=='HD+CO₂'"}],"mark":{"type":"line","color":"#222","strokeWidth":0.9,"strokeDash":[3,2]},"encoding":{"detail":{"field":"g"}}},
{"transform":[{"filter":"datum.e>0"}],"mark":{"type":"errorbar","ticks":true,"color":"#222"},"encoding":{"yError":{"field":"e"}}},
{"mark":{"type":"point","filled":true,"size":90,"stroke":"black","strokeWidth":1,"opacity":1},"encoding":{"shape":{"field":"g","type":"nominal","legend":null},"fill":{"field":"g","type":"nominal","legend":null}}}]},
{"data":{"name":"strip"},"mark":{"type":"rect","stroke":"black","strokeWidth":0.8},"encoding":{"x":{"field":"a","type":"quantitative"},"x2":{"field":"b"},"y":{"datum":0},"y2":{"datum":-0.135},"color":{"field":"k","type":"nominal","scale":{"domain":["pre","s1","s2","hd","post"],"range":["white","#c8c8c8","#8f8f8f","black","white"]},"legend":null}}},
{"data":{"values":[{"t":"(h)","n":"C17:0"}]},"layer":[{"mark":{"type":"text","style":"idlab"},"encoding":{"x":{"datum":30},"y":{"datum":3.43},"text":{"field":"t"}}},{"mark":{"type":"text","style":"nmlab"},"encoding":{"x":{"datum":37.9},"y":{"datum":3.43},"text":{"field":"n"}}}]}
]},
{"width":162,"height":132,"layer":[
{"data":{"name":"d"},"transform":[{"filter":"datum.p=='i'"}],"encoding":{"x":{"field":"x","type":"quantitative","scale":{"domain":[30,46],"nice":false,"zero":false},"axis":{"values":[30,32,34,36,38,40,42,44,46],"format":"d","tickCount":50,"labelOverlap":false,"title":null}},"y":{"field":"v","type":"quantitative","scale":{"domain":[-1.38,35],"nice":false,"zero":false},"axis":{"values":[0,5,10,15,20,25,30,35],"tickCount":50,"labelOverlap":false,"format":"d","labelExpr":"abs(datum.value/10-round(datum.value/10))<0.001?datum.label:''","title":"μg /g FW","titleY":46}}},"layer":[
{"transform":[{"filter":"datum.g=='C'||datum.g=='CO₂'"}],"mark":{"type":"line","color":"#222","strokeWidth":0.9},"encoding":{"detail":{"field":"g"}}},
{"transform":[{"filter":"datum.g=='HD'||datum.g=='HD+CO₂'"}],"mark":{"type":"line","color":"#222","strokeWidth":0.9,"strokeDash":[3,2]},"encoding":{"detail":{"field":"g"}}},
{"transform":[{"filter":"datum.e>0"}],"mark":{"type":"errorbar","ticks":true,"color":"#222"},"encoding":{"yError":{"field":"e"}}},
{"mark":{"type":"point","filled":true,"size":90,"stroke":"black","strokeWidth":1,"opacity":1},"encoding":{"shape":{"field":"g","type":"nominal","legend":null},"fill":{"field":"g","type":"nominal","legend":null}}}]},
{"data":{"name":"strip"},"mark":{"type":"rect","stroke":"black","strokeWidth":0.8},"encoding":{"x":{"field":"a","type":"quantitative"},"x2":{"field":"b"},"y":{"datum":0},"y2":{"datum":-1.38},"color":{"field":"k","type":"nominal","scale":{"domain":["pre","s1","s2","hd","post"],"range":["white","#c8c8c8","#8f8f8f","black","white"]},"legend":null}}},
{"data":{"values":[{"t":"(i)","n":"C18:0"}]},"layer":[{"mark":{"type":"text","style":"idlab"},"encoding":{"x":{"datum":30},"y":{"datum":35},"text":{"field":"t"}}},{"mark":{"type":"text","style":"nmlab"},"encoding":{"x":{"datum":37.9},"y":{"datum":35},"text":{"field":"n"}}}]}
]},
{"width":162,"height":132,"layer":[
{"data":{"name":"d"},"transform":[{"filter":"datum.p=='j'"}],"encoding":{"x":{"field":"x","type":"quantitative","scale":{"domain":[30,46],"nice":false,"zero":false},"axis":{"values":[30,32,34,36,38,40,42,44,46],"format":"d","tickCount":50,"labelOverlap":false,"title":null}},"y":{"field":"v","type":"quantitative","scale":{"domain":[-0.315,8],"nice":false,"zero":false},"axis":{"values":[0,1,2,3,4,5,6,7,8],"tickCount":50,"labelOverlap":false,"format":"d","labelExpr":"abs(datum.value/2-round(datum.value/2))<0.001?datum.label:''","title":null}}},"layer":[
{"transform":[{"filter":"datum.g=='C'||datum.g=='CO₂'"}],"mark":{"type":"line","color":"#222","strokeWidth":0.9},"encoding":{"detail":{"field":"g"}}},
{"transform":[{"filter":"datum.g=='HD'||datum.g=='HD+CO₂'"}],"mark":{"type":"line","color":"#222","strokeWidth":0.9,"strokeDash":[3,2]},"encoding":{"detail":{"field":"g"}}},
{"transform":[{"filter":"datum.e>0"}],"mark":{"type":"errorbar","ticks":true,"color":"#222"},"encoding":{"yError":{"field":"e"}}},
{"mark":{"type":"point","filled":true,"size":90,"stroke":"black","strokeWidth":1,"opacity":1},"encoding":{"shape":{"field":"g","type":"nominal","legend":null},"fill":{"field":"g","type":"nominal","legend":null}}}]},
{"data":{"name":"strip"},"mark":{"type":"rect","stroke":"black","strokeWidth":0.8},"encoding":{"x":{"field":"a","type":"quantitative"},"x2":{"field":"b"},"y":{"datum":0},"y2":{"datum":-0.315},"color":{"field":"k","type":"nominal","scale":{"domain":["pre","s1","s2","hd","post"],"range":["white","#c8c8c8","#8f8f8f","black","white"]},"legend":null}}},
{"data":{"values":[{"t":"(j)","n":"18:1"}]},"layer":[{"mark":{"type":"text","style":"idlab"},"encoding":{"x":{"datum":30},"y":{"datum":8},"text":{"field":"t"}}},{"mark":{"type":"text","style":"nmlab"},"encoding":{"x":{"datum":37.9},"y":{"datum":8},"text":{"field":"n"}}}]}
]},
{"width":162,"height":132,"layer":[
{"data":{"name":"d"},"transform":[{"filter":"datum.p=='k'"}],"encoding":{"x":{"field":"x","type":"quantitative","scale":{"domain":[30,46],"nice":false,"zero":false},"axis":{"values":[30,32,34,36,38,40,42,44,46],"format":"d","tickCount":50,"labelOverlap":false,"title":null}},"y":{"field":"v","type":"quantitative","scale":{"domain":[-7.9,200],"nice":false,"zero":false},"axis":{"values":[0,25,50,75,100,125,150,175,200],"tickCount":50,"labelOverlap":false,"format":"d","labelExpr":"abs(datum.value/50-round(datum.value/50))<0.001?datum.label:''","title":null}}},"layer":[
{"transform":[{"filter":"datum.g=='C'||datum.g=='CO₂'"}],"mark":{"type":"line","color":"#222","strokeWidth":0.9},"encoding":{"detail":{"field":"g"}}},
{"transform":[{"filter":"datum.g=='HD'||datum.g=='HD+CO₂'"}],"mark":{"type":"line","color":"#222","strokeWidth":0.9,"strokeDash":[3,2]},"encoding":{"detail":{"field":"g"}}},
{"transform":[{"filter":"datum.e>0"}],"mark":{"type":"errorbar","ticks":true,"color":"#222"},"encoding":{"yError":{"field":"e"}}},
{"mark":{"type":"point","filled":true,"size":90,"stroke":"black","strokeWidth":1,"opacity":1},"encoding":{"shape":{"field":"g","type":"nominal","legend":null},"fill":{"field":"g","type":"nominal","legend":null}}}]},
{"data":{"name":"strip"},"mark":{"type":"rect","stroke":"black","strokeWidth":0.8},"encoding":{"x":{"field":"a","type":"quantitative"},"x2":{"field":"b"},"y":{"datum":0},"y2":{"datum":-7.9},"color":{"field":"k","type":"nominal","scale":{"domain":["pre","s1","s2","hd","post"],"range":["white","#c8c8c8","#8f8f8f","black","white"]},"legend":null}}},
{"data":{"values":[{"t":"(k)","n":"C18:2"}]},"layer":[{"mark":{"type":"text","style":"idlab"},"encoding":{"x":{"datum":30},"y":{"datum":200},"text":{"field":"t"}}},{"mark":{"type":"text","style":"nmlab"},"encoding":{"x":{"datum":37.9},"y":{"datum":200},"text":{"field":"n"}}}]}
]},
{"width":162,"height":132,"layer":[
{"data":{"name":"d"},"transform":[{"filter":"datum.p=='l'"}],"encoding":{"x":{"field":"x","type":"quantitative","scale":{"domain":[30,46],"nice":false,"zero":false},"axis":{"values":[30,32,34,36,38,40,42,44,46],"format":"d","tickCount":50,"labelOverlap":false,"title":null}},"y":{"field":"v","type":"quantitative","scale":{"domain":[-10.8,275],"nice":false,"zero":false},"axis":{"values":[0,37.5,75,112.5,150,187.5,225,262.5],"tickCount":50,"labelOverlap":false,"format":"d","labelExpr":"abs(datum.value/75-round(datum.value/75))<0.001?datum.label:''","title":null}}},"layer":[
{"transform":[{"filter":"datum.g=='C'||datum.g=='CO₂'"}],"mark":{"type":"line","color":"#222","strokeWidth":0.9},"encoding":{"detail":{"field":"g"}}},
{"transform":[{"filter":"datum.g=='HD'||datum.g=='HD+CO₂'"}],"mark":{"type":"line","color":"#222","strokeWidth":0.9,"strokeDash":[3,2]},"encoding":{"detail":{"field":"g"}}},
{"transform":[{"filter":"datum.e>0"}],"mark":{"type":"errorbar","ticks":true,"color":"#222"},"encoding":{"yError":{"field":"e"}}},
{"mark":{"type":"point","filled":true,"size":90,"stroke":"black","strokeWidth":1,"opacity":1},"encoding":{"shape":{"field":"g","type":"nominal","legend":null},"fill":{"field":"g","type":"nominal","legend":null}}}]},
{"data":{"name":"strip"},"mark":{"type":"rect","stroke":"black","strokeWidth":0.8},"encoding":{"x":{"field":"a","type":"quantitative"},"x2":{"field":"b"},"y":{"datum":0},"y2":{"datum":-10.8},"color":{"field":"k","type":"nominal","scale":{"domain":["pre","s1","s2","hd","post"],"range":["white","#c8c8c8","#8f8f8f","black","white"]},"legend":null}}},
{"data":{"values":[{"t":"(l)","n":"C18:3"}]},"layer":[{"mark":{"type":"text","style":"idlab"},"encoding":{"x":{"datum":30},"y":{"datum":275},"text":{"field":"t"}}},{"mark":{"type":"text","style":"nmlab"},"encoding":{"x":{"datum":37.9},"y":{"datum":275},"text":{"field":"n"}}}]}
]},
{"width":162,"height":132,"layer":[
{"data":{"name":"d"},"transform":[{"filter":"datum.p=='m'"}],"encoding":{"x":{"field":"x","type":"quantitative","scale":{"domain":[30,46],"nice":false,"zero":false},"axis":{"values":[30,32,34,36,38,40,42,44,46],"format":"d","tickCount":50,"labelOverlap":false,"title":null}},"y":{"field":"v","type":"quantitative","scale":{"domain":[-0.2,5],"nice":false,"zero":false},"axis":{"values":[0,0.5,1,1.5,2,2.5,3,3.5,4,4.5,5],"tickCount":50,"labelOverlap":false,"format":"d","labelExpr":"abs(datum.value/1-round(datum.value/1))<0.001?datum.label:''","title":"μg /g FW","titleY":46}}},"layer":[
{"transform":[{"filter":"datum.g=='C'||datum.g=='CO₂'"}],"mark":{"type":"line","color":"#222","strokeWidth":0.9},"encoding":{"detail":{"field":"g"}}},
{"transform":[{"filter":"datum.g=='HD'||datum.g=='HD+CO₂'"}],"mark":{"type":"line","color":"#222","strokeWidth":0.9,"strokeDash":[3,2]},"encoding":{"detail":{"field":"g"}}},
{"transform":[{"filter":"datum.e>0"}],"mark":{"type":"errorbar","ticks":true,"color":"#222"},"encoding":{"yError":{"field":"e"}}},
{"mark":{"type":"point","filled":true,"size":90,"stroke":"black","strokeWidth":1,"opacity":1},"encoding":{"shape":{"field":"g","type":"nominal","legend":null},"fill":{"field":"g","type":"nominal","legend":null}}}]},
{"data":{"name":"strip"},"mark":{"type":"rect","stroke":"black","strokeWidth":0.8},"encoding":{"x":{"field":"a","type":"quantitative"},"x2":{"field":"b"},"y":{"datum":0},"y2":{"datum":-0.2},"color":{"field":"k","type":"nominal","scale":{"domain":["pre","s1","s2","hd","post"],"range":["white","#c8c8c8","#8f8f8f","black","white"]},"legend":null}}},
{"data":{"values":[{"t":"(m)","n":"C20:0"}]},"layer":[{"mark":{"type":"text","style":"idlab"},"encoding":{"x":{"datum":30},"y":{"datum":5},"text":{"field":"t"}}},{"mark":{"type":"text","style":"nmlab"},"encoding":{"x":{"datum":37.9},"y":{"datum":5},"text":{"field":"n"}}}]}
]},
{"width":162,"height":132,"layer":[
{"data":{"name":"d"},"transform":[{"filter":"datum.p=='n'"}],"encoding":{"x":{"field":"x","type":"quantitative","scale":{"domain":[30,46],"nice":false,"zero":false},"axis":{"values":[30,32,34,36,38,40,42,44,46],"format":"d","tickCount":50,"labelOverlap":false,"title":null}},"y":{"field":"v","type":"quantitative","scale":{"domain":[-0.079,2],"nice":false,"zero":false},"axis":{"values":[0,0.25,0.5,0.75,1,1.25,1.5,1.75,2],"tickCount":50,"labelOverlap":false,"format":".1f","labelExpr":"abs(datum.value/0.5-round(datum.value/0.5))<0.001?datum.label:''","title":null}}},"layer":[
{"transform":[{"filter":"datum.g=='C'||datum.g=='CO₂'"}],"mark":{"type":"line","color":"#222","strokeWidth":0.9},"encoding":{"detail":{"field":"g"}}},
{"transform":[{"filter":"datum.g=='HD'||datum.g=='HD+CO₂'"}],"mark":{"type":"line","color":"#222","strokeWidth":0.9,"strokeDash":[3,2]},"encoding":{"detail":{"field":"g"}}},
{"transform":[{"filter":"datum.e>0"}],"mark":{"type":"errorbar","ticks":true,"color":"#222"},"encoding":{"yError":{"field":"e"}}},
{"mark":{"type":"point","filled":true,"size":90,"stroke":"black","strokeWidth":1,"opacity":1},"encoding":{"shape":{"field":"g","type":"nominal","legend":null},"fill":{"field":"g","type":"nominal","legend":null}}}]},
{"data":{"name":"strip"},"mark":{"type":"rect","stroke":"black","strokeWidth":0.8},"encoding":{"x":{"field":"a","type":"quantitative"},"x2":{"field":"b"},"y":{"datum":0},"y2":{"datum":-0.079},"color":{"field":"k","type":"nominal","scale":{"domain":["pre","s1","s2","hd","post"],"range":["white","#c8c8c8","#8f8f8f","black","white"]},"legend":null}}},
{"data":{"values":[{"t":"(n)","n":"C20:2"}]},"layer":[{"mark":{"type":"text","style":"idlab"},"encoding":{"x":{"datum":30},"y":{"datum":2},"text":{"field":"t"}}},{"mark":{"type":"text","style":"nmlab"},"encoding":{"x":{"datum":37.9},"y":{"datum":2},"text":{"field":"n"}}}]}
]},
{"width":162,"height":132,"layer":[
{"data":{"name":"d"},"transform":[{"filter":"datum.p=='o'"}],"encoding":{"x":{"field":"x","type":"quantitative","scale":{"domain":[30,46],"nice":false,"zero":false},"axis":{"values":[30,32,34,36,38,40,42,44,46],"format":"d","tickCount":50,"labelOverlap":false,"title":null}},"y":{"field":"v","type":"quantitative","scale":{"domain":[-0.315,8],"nice":false,"zero":false},"axis":{"values":[0,1,2,3,4,5,6,7,8],"tickCount":50,"labelOverlap":false,"format":"d","labelExpr":"abs(datum.value/2-round(datum.value/2))<0.001?datum.label:''","title":null}}},"layer":[
{"transform":[{"filter":"datum.g=='C'||datum.g=='CO₂'"}],"mark":{"type":"line","color":"#222","strokeWidth":0.9},"encoding":{"detail":{"field":"g"}}},
{"transform":[{"filter":"datum.g=='HD'||datum.g=='HD+CO₂'"}],"mark":{"type":"line","color":"#222","strokeWidth":0.9,"strokeDash":[3,2]},"encoding":{"detail":{"field":"g"}}},
{"transform":[{"filter":"datum.e>0"}],"mark":{"type":"errorbar","ticks":true,"color":"#222"},"encoding":{"yError":{"field":"e"}}},
{"mark":{"type":"point","filled":true,"size":90,"stroke":"black","strokeWidth":1,"opacity":1},"encoding":{"shape":{"field":"g","type":"nominal","legend":null},"fill":{"field":"g","type":"nominal","legend":null}}}]},
{"data":{"name":"strip"},"mark":{"type":"rect","stroke":"black","strokeWidth":0.8},"encoding":{"x":{"field":"a","type":"quantitative"},"x2":{"field":"b"},"y":{"datum":0},"y2":{"datum":-0.315},"color":{"field":"k","type":"nominal","scale":{"domain":["pre","s1","s2","hd","post"],"range":["white","#c8c8c8","#8f8f8f","black","white"]},"legend":null}}},
{"data":{"values":[{"t":"(o)","n":"C22:0"}]},"layer":[{"mark":{"type":"text","style":"idlab"},"encoding":{"x":{"datum":30},"y":{"datum":8},"text":{"field":"t"}}},{"mark":{"type":"text","style":"nmlab"},"encoding":{"x":{"datum":37.9},"y":{"datum":8},"text":{"field":"n"}}}]}
]},
{"width":162,"height":132,"layer":[
{"data":{"name":"d"},"transform":[{"filter":"datum.p=='p'"}],"encoding":{"x":{"field":"x","type":"quantitative","scale":{"domain":[30,46],"nice":false,"zero":false},"axis":{"values":[30,32,34,36,38,40,42,44,46],"format":"d","tickCount":50,"labelOverlap":false,"title":null}},"y":{"field":"v","type":"quantitative","scale":{"domain":[-0.047,1.2],"nice":false,"zero":false},"axis":{"values":[0,0.15,0.3,0.45,0.6,0.75,0.9,1.05,1.2],"tickCount":50,"labelOverlap":false,"format":".1f","labelExpr":"abs(datum.value/0.3-round(datum.value/0.3))<0.001?datum.label:''","title":null}}},"layer":[
{"transform":[{"filter":"datum.g=='C'||datum.g=='CO₂'"}],"mark":{"type":"line","color":"#222","strokeWidth":0.9},"encoding":{"detail":{"field":"g"}}},
{"transform":[{"filter":"datum.g=='HD'||datum.g=='HD+CO₂'"}],"mark":{"type":"line","color":"#222","strokeWidth":0.9,"strokeDash":[3,2]},"encoding":{"detail":{"field":"g"}}},
{"transform":[{"filter":"datum.e>0"}],"mark":{"type":"errorbar","ticks":true,"color":"#222"},"encoding":{"yError":{"field":"e"}}},
{"mark":{"type":"point","filled":true,"size":90,"stroke":"black","strokeWidth":1,"opacity":1},"encoding":{"shape":{"field":"g","type":"nominal","legend":null},"fill":{"field":"g","type":"nominal","legend":null}}}]},
{"data":{"name":"strip"},"mark":{"type":"rect","stroke":"black","strokeWidth":0.8},"encoding":{"x":{"field":"a","type":"quantitative"},"x2":{"field":"b"},"y":{"datum":0},"y2":{"datum":-0.047},"color":{"field":"k","type":"nominal","scale":{"domain":["pre","s1","s2","hd","post"],"range":["white","#c8c8c8","#8f8f8f","black","white"]},"legend":null}}},
{"data":{"values":[{"t":"(p)","n":"C23:0"}]},"layer":[{"mark":{"type":"text","style":"idlab"},"encoding":{"x":{"datum":30},"y":{"datum":1.2},"text":{"field":"t"}}},{"mark":{"type":"text","style":"nmlab"},"encoding":{"x":{"datum":37.9},"y":{"datum":1.2},"text":{"field":"n"}}}]}
]},
{"width":162,"height":132,"layer":[
{"data":{"name":"d"},"transform":[{"filter":"datum.p=='q'"}],"encoding":{"x":{"field":"x","type":"quantitative","scale":{"domain":[30,46],"nice":false,"zero":false},"axis":{"values":[30,32,34,36,38,40,42,44,46],"format":"d","tickCount":50,"labelOverlap":false,"title":null}},"y":{"field":"v","type":"quantitative","scale":{"domain":[-0.59,15],"nice":false,"zero":false},"axis":{"values":[0,2.5,5,7.5,10,12.5,15],"tickCount":50,"labelOverlap":false,"format":"d","labelExpr":"abs(datum.value/5-round(datum.value/5))<0.001?datum.label:''","title":"μg /g FW","titleY":46}}},"layer":[
{"transform":[{"filter":"datum.g=='C'||datum.g=='CO₂'"}],"mark":{"type":"line","color":"#222","strokeWidth":0.9},"encoding":{"detail":{"field":"g"}}},
{"transform":[{"filter":"datum.g=='HD'||datum.g=='HD+CO₂'"}],"mark":{"type":"line","color":"#222","strokeWidth":0.9,"strokeDash":[3,2]},"encoding":{"detail":{"field":"g"}}},
{"transform":[{"filter":"datum.e>0"}],"mark":{"type":"errorbar","ticks":true,"color":"#222"},"encoding":{"yError":{"field":"e"}}},
{"mark":{"type":"point","filled":true,"size":90,"stroke":"black","strokeWidth":1,"opacity":1},"encoding":{"shape":{"field":"g","type":"nominal","legend":null},"fill":{"field":"g","type":"nominal","legend":null}}}]},
{"data":{"name":"strip"},"mark":{"type":"rect","stroke":"black","strokeWidth":0.8},"encoding":{"x":{"field":"a","type":"quantitative"},"x2":{"field":"b"},"y":{"datum":0},"y2":{"datum":-0.59},"color":{"field":"k","type":"nominal","scale":{"domain":["pre","s1","s2","hd","post"],"range":["white","#c8c8c8","#8f8f8f","black","white"]},"legend":null}}},
{"data":{"values":[{"t":"(q)","n":"C24:0"}]},"layer":[{"mark":{"type":"text","style":"idlab"},"encoding":{"x":{"datum":30},"y":{"datum":15},"text":{"field":"t"}}},{"mark":{"type":"text","style":"nmlab"},"encoding":{"x":{"datum":37.9},"y":{"datum":15},"text":{"field":"n"}}}]}
]},
{"width":162,"height":132,"layer":[
{"data":{"name":"d"},"transform":[{"filter":"datum.p=='r'"}],"encoding":{"x":{"field":"x","type":"quantitative","scale":{"domain":[30,46],"nice":false,"zero":false},"axis":{"values":[30,32,34,36,38,40,42,44,46],"format":"d","tickCount":50,"labelOverlap":false,"title":null}},"y":{"field":"v","type":"quantitative","scale":{"domain":[-0.157,4],"nice":false,"zero":false},"axis":{"values":[0,0.5,1,1.5,2,2.5,3,3.5,4],"tickCount":50,"labelOverlap":false,"format":"d","labelExpr":"abs(datum.value/1-round(datum.value/1))<0.001?datum.label:''","title":null}}},"layer":[
{"transform":[{"filter":"datum.g=='C'||datum.g=='CO₂'"}],"mark":{"type":"line","color":"#222","strokeWidth":0.9},"encoding":{"detail":{"field":"g"}}},
{"transform":[{"filter":"datum.g=='HD'||datum.g=='HD+CO₂'"}],"mark":{"type":"line","color":"#222","strokeWidth":0.9,"strokeDash":[3,2]},"encoding":{"detail":{"field":"g"}}},
{"transform":[{"filter":"datum.e>0"}],"mark":{"type":"errorbar","ticks":true,"color":"#222"},"encoding":{"yError":{"field":"e"}}},
{"mark":{"type":"point","filled":true,"size":90,"stroke":"black","strokeWidth":1,"opacity":1},"encoding":{"shape":{"field":"g","type":"nominal","legend":null},"fill":{"field":"g","type":"nominal","legend":null}}}]},
{"data":{"name":"strip"},"mark":{"type":"rect","stroke":"black","strokeWidth":0.8},"encoding":{"x":{"field":"a","type":"quantitative"},"x2":{"field":"b"},"y":{"datum":0},"y2":{"datum":-0.157},"color":{"field":"k","type":"nominal","scale":{"domain":["pre","s1","s2","hd","post"],"range":["white","#c8c8c8","#8f8f8f","black","white"]},"legend":null}}},
{"data":{"values":[{"t":"(r)","n":"C24:1"}]},"layer":[{"mark":{"type":"text","style":"idlab"},"encoding":{"x":{"datum":30},"y":{"datum":4},"text":{"field":"t"}}},{"mark":{"type":"text","style":"nmlab"},"encoding":{"x":{"datum":37.9},"y":{"datum":4},"text":{"field":"n"}}}]}
]},
{"width":162,"height":132,"layer":[
{"data":{"name":"d"},"transform":[{"filter":"datum.p=='s'"}],"encoding":{"x":{"field":"x","type":"quantitative","scale":{"domain":[30,46],"nice":false,"zero":false},"axis":{"values":[30,32,34,36,38,40,42,44,46],"format":"d","tickCount":50,"labelOverlap":false,"labels":true,"title":"DAS"}},"y":{"field":"v","type":"quantitative","scale":{"domain":[-0.083,2.12],"nice":false,"zero":false},"axis":{"values":[0,0.25,0.5,0.75,1,1.25,1.5,1.75,2],"tickCount":50,"labelOverlap":false,"format":".1f","labelExpr":"abs(datum.value/0.5-round(datum.value/0.5))<0.001?datum.label:''","title":null}}},"layer":[
{"transform":[{"filter":"datum.g=='C'||datum.g=='CO₂'"}],"mark":{"type":"line","color":"#222","strokeWidth":0.9},"encoding":{"detail":{"field":"g"}}},
{"transform":[{"filter":"datum.g=='HD'||datum.g=='HD+CO₂'"}],"mark":{"type":"line","color":"#222","strokeWidth":0.9,"strokeDash":[3,2]},"encoding":{"detail":{"field":"g"}}},
{"transform":[{"filter":"datum.e>0"}],"mark":{"type":"errorbar","ticks":true,"color":"#222"},"encoding":{"yError":{"field":"e"}}},
{"mark":{"type":"point","filled":true,"size":90,"stroke":"black","strokeWidth":1,"opacity":1},"encoding":{"shape":{"field":"g","type":"nominal","legend":null},"fill":{"field":"g","type":"nominal","legend":null}}}]},
{"data":{"name":"strip"},"mark":{"type":"rect","stroke":"black","strokeWidth":0.8},"encoding":{"x":{"field":"a","type":"quantitative"},"x2":{"field":"b"},"y":{"datum":0},"y2":{"datum":-0.083},"color":{"field":"k","type":"nominal","scale":{"domain":["pre","s1","s2","hd","post"],"range":["white","#c8c8c8","#8f8f8f","black","white"]},"legend":null}}},
{"data":{"values":[{"t":"(s)","n":"C25:0"}]},"layer":[{"mark":{"type":"text","style":"idlab"},"encoding":{"x":{"datum":30},"y":{"datum":2.12},"text":{"field":"t"}}},{"mark":{"type":"text","style":"nmlab"},"encoding":{"x":{"datum":37.9},"y":{"datum":2.12},"text":{"field":"n"}}}]}
]},
{"width":162,"height":132,"layer":[
{"data":{"name":"d"},"transform":[{"filter":"datum.p=='t'"}],"encoding":{"x":{"field":"x","type":"quantitative","scale":{"domain":[30,46],"nice":false,"zero":false},"axis":{"values":[30,32,34,36,38,40,42,44,46],"format":"d","tickCount":50,"labelOverlap":false,"labels":true,"title":"DAS"}},"y":{"field":"v","type":"quantitative","scale":{"domain":[-0.5,12.7],"nice":false,"zero":false},"axis":{"values":[0,2,4,6,8,10,12],"tickCount":50,"labelOverlap":false,"format":"d","labelExpr":"abs(datum.value/4-round(datum.value/4))<0.001?datum.label:''","title":null}}},"layer":[
{"transform":[{"filter":"datum.g=='C'||datum.g=='CO₂'"}],"mark":{"type":"line","color":"#222","strokeWidth":0.9},"encoding":{"detail":{"field":"g"}}},
{"transform":[{"filter":"datum.g=='HD'||datum.g=='HD+CO₂'"}],"mark":{"type":"line","color":"#222","strokeWidth":0.9,"strokeDash":[3,2]},"encoding":{"detail":{"field":"g"}}},
{"transform":[{"filter":"datum.e>0"}],"mark":{"type":"errorbar","ticks":true,"color":"#222"},"encoding":{"yError":{"field":"e"}}},
{"mark":{"type":"point","filled":true,"size":90,"stroke":"black","strokeWidth":1,"opacity":1},"encoding":{"shape":{"field":"g","type":"nominal","legend":null},"fill":{"field":"g","type":"nominal","legend":null}}}]},
{"data":{"name":"strip"},"mark":{"type":"rect","stroke":"black","strokeWidth":0.8},"encoding":{"x":{"field":"a","type":"quantitative"},"x2":{"field":"b"},"y":{"datum":0},"y2":{"datum":-0.5},"color":{"field":"k","type":"nominal","scale":{"domain":["pre","s1","s2","hd","post"],"range":["white","#c8c8c8","#8f8f8f","black","white"]},"legend":null}}},
{"data":{"values":[{"t":"(t)","n":"26:0"}]},"layer":[{"mark":{"type":"text","style":"idlab"},"encoding":{"x":{"datum":30},"y":{"datum":12.7},"text":{"field":"t"}}},{"mark":{"type":"text","style":"nmlab"},"encoding":{"x":{"datum":37.9},"y":{"datum":12.7},"text":{"field":"n"}}}]}
]},
{"width":162,"height":132,"layer":[
{"data":{"name":"d"},"transform":[{"filter":"datum.p=='u'"}],"encoding":{"x":{"field":"x","type":"quantitative","scale":{"domain":[30,46],"nice":false,"zero":false},"axis":{"values":[30,32,34,36,38,40,42,44,46],"format":"d","tickCount":50,"labelOverlap":false,"labels":true,"title":"DAS"}},"y":{"field":"v","type":"quantitative","scale":{"domain":[-31.5,800],"nice":false,"zero":false},"axis":{"values":[0,100,200,300,400,500,600,700,800],"tickCount":50,"labelOverlap":false,"format":"d","labelExpr":"abs(datum.value/200-round(datum.value/200))<0.001?datum.label:''","title":"(μg /g FW)","titleFontSize":12,"minExtent":24,"maxExtent":24,"titlePadding":-1,"titleY":89}}},"layer":[
{"transform":[{"filter":"datum.g=='C'||datum.g=='CO₂'"}],"mark":{"type":"line","color":"#222","strokeWidth":0.9},"encoding":{"detail":{"field":"g"}}},
{"transform":[{"filter":"datum.g=='HD'||datum.g=='HD+CO₂'"}],"mark":{"type":"line","color":"#222","strokeWidth":0.9,"strokeDash":[3,2]},"encoding":{"detail":{"field":"g"}}},
{"transform":[{"filter":"datum.e>0"}],"mark":{"type":"errorbar","ticks":true,"color":"#222"},"encoding":{"yError":{"field":"e"}}},
{"mark":{"type":"point","filled":true,"size":90,"stroke":"black","strokeWidth":1,"opacity":1},"encoding":{"shape":{"field":"g","type":"nominal","legend":null},"fill":{"field":"g","type":"nominal","legend":null}}}]},
{"data":{"name":"strip"},"mark":{"type":"rect","stroke":"black","strokeWidth":0.8},"encoding":{"x":{"field":"a","type":"quantitative"},"x2":{"field":"b"},"y":{"datum":0},"y2":{"datum":-31.5},"color":{"field":"k","type":"nominal","scale":{"domain":["pre","s1","s2","hd","post"],"range":["white","#c8c8c8","#8f8f8f","black","white"]},"legend":null}}},
{"data":{"values":[{"t":"(u)","n":"Total lipids"}]},"layer":[{"mark":{"type":"text","style":"idlab"},"encoding":{"x":{"datum":30},"y":{"datum":800},"text":{"field":"t"}}},{"mark":{"type":"text","style":"nmlab"},"encoding":{"x":{"datum":37.9},"y":{"datum":800},"text":{"field":"n"}}}]}
]},
{"width":162,"height":132,"layer":[
{"data":{"name":"d"},"transform":[{"filter":"datum.p=='v'"}],"encoding":{"x":{"field":"x","type":"quantitative","scale":{"domain":[30,46],"nice":false,"zero":false},"axis":{"values":[30,32,34,36,38,40,42,44,46],"format":"d","tickCount":50,"labelOverlap":false,"labels":true,"title":"DAS"}},"y":{"field":"v","type":"quantitative","scale":{"domain":[234,270.5],"nice":false,"zero":false},"axis":{"values":[240,245,250,255,260,265,270],"tickCount":50,"labelOverlap":false,"format":"d","labelExpr":"abs(datum.value/10-round(datum.value/10))<0.001?datum.label:''","title":"Double bond index","titleFontSize":11,"minExtent":25,"maxExtent":25,"titlePadding":-1,"titleY":78}}},"layer":[
{"transform":[{"filter":"datum.g=='C'||datum.g=='CO₂'"}],"mark":{"type":"line","color":"#222","strokeWidth":0.9},"encoding":{"detail":{"field":"g"}}},
{"transform":[{"filter":"datum.g=='HD'||datum.g=='HD+CO₂'"}],"mark":{"type":"line","color":"#222","strokeWidth":0.9,"strokeDash":[3,2]},"encoding":{"detail":{"field":"g"}}},
{"transform":[{"filter":"datum.e>0"}],"mark":{"type":"errorbar","ticks":true,"color":"#222"},"encoding":{"yError":{"field":"e"}}},
{"mark":{"type":"point","filled":true,"size":90,"stroke":"black","strokeWidth":1,"opacity":1},"encoding":{"shape":{"field":"g","type":"nominal","legend":null},"fill":{"field":"g","type":"nominal","legend":null}}}]},
{"data":{"name":"strip"},"mark":{"type":"rect","stroke":"black","strokeWidth":0.8},"encoding":{"x":{"field":"a","type":"quantitative"},"x2":{"field":"b"},"y":{"datum":235.4},"y2":{"datum":234},"color":{"field":"k","type":"nominal","scale":{"domain":["pre","s1","s2","hd","post"],"range":["white","#c8c8c8","#8f8f8f","black","white"]},"legend":null}}},
{"data":{"values":[{"t":"(v)","n":"DBI"}]},"layer":[{"mark":{"type":"text","style":"idlab"},"encoding":{"x":{"datum":30},"y":{"datum":270.5},"text":{"field":"t"}}},{"mark":{"type":"text","style":"nmlab"},"encoding":{"x":{"datum":37.9},"y":{"datum":270.5},"text":{"field":"n"}}}]}
]}
]
}
